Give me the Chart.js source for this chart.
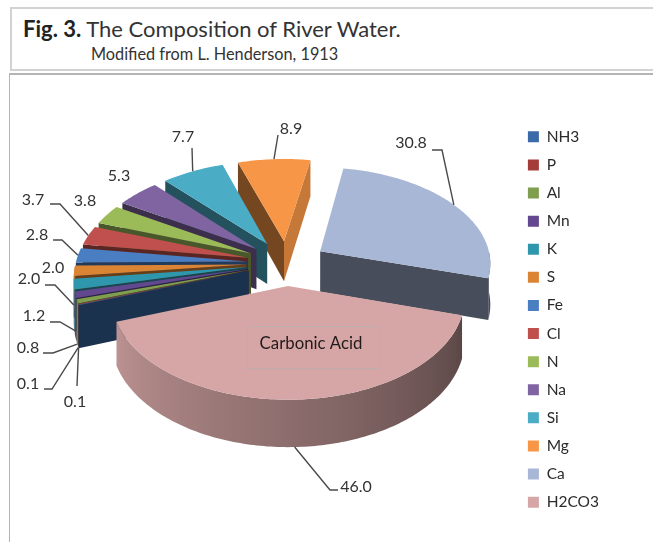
<!DOCTYPE html>
<html>
<head>
<meta charset="utf-8">
<title>The Composition of River Water</title>
<script src="https://cdn.jsdelivr.net/npm/chart.js@4"></script>
<style>
  html, body { margin: 0; padding: 0; background: #fff; }
  body { width: 653px; height: 542px; position: relative; overflow: hidden; font-family: Lato, sans-serif; color: #333; }
  #head { position: absolute; left: 10px; top: 7px; right: 0; height: 64px; border: solid #d2d2d2; border-width: 2px 0 2px 2px; box-sizing: border-box; }
  #frame { position: absolute; left: 9px; top: 73px; right: 0; bottom: 0; border: solid #b4b4b4; border-width: 2px 0 0 1.5px; box-sizing: border-box; }
  #t1 { position: absolute; left: 23px; top: 16px; font-size: 22px; line-height: 26px; white-space: nowrap; }
  #t1 b { color: #222; }
  #t2 { position: absolute; left: 91px; top: 45px; font-size: 16.3px; line-height: 18px; white-space: nowrap; }
  canvas { position: absolute; left: 0; top: 0; }
</style>
</head>
<body>
<div id="head"></div>
<div id="frame"></div>
<div id="t1"><b>Fig. 3.</b> The Composition of River Water.</div>
<div id="t2">Modified from L. Henderson, 1913</div>
<canvas id="pie" width="653" height="542"></canvas>
<script>
// Dissolved constituents of river water, percent of total solutes.
const categories = ['NH3', 'P', 'Al', 'Mn', 'K', 'S', 'Fe', 'Cl', 'N', 'Na', 'Si', 'Mg', 'Ca', 'H2CO3'];
const values = [0.1, 0.1, 0.8, 1.2, 2.0, 2.0, 2.8, 3.7, 3.8, 5.3, 7.7, 8.9, 30.8, 46.0];
const sliceColors = ['#3A6AA8', '#A33C3A', '#7F9F4F', '#63478F', '#2E97AE', '#DB8434', '#4A7EC2',
                     '#C0504D', '#9BBB59', '#8064A2', '#4BACC6', '#F79646', '#A9B7D7', '#D6A6A6'];

// Pseudo-3D view of the flat pie: vertical squash, perspective strength, slab thickness.
const tilt = 0.56;
const perspective = 0.11;
const thickness = 41;

// Text position for each value label, elbow of its leader line (if any) and how far
// down the slab the leader lands (0 = top face, 1 = bottom edge).
const labelSpots = [
  { x: 75, y: 402, elbow: [77, 386], start: [77, 386], drop: 1 },
  { x: 28, y: 384, elbow: [52, 389], start: [44, 389], drop: 1 },
  { x: 28, y: 348, elbow: [53, 353], start: [43, 353], drop: 1 },
  { x: 34, y: 316, elbow: [60, 322], start: [50, 322], drop: 0.85 },
  { x: 29, y: 279, elbow: [55, 285], start: [45, 285], drop: 0.5 },
  { x: 53, y: 268 },
  { x: 37, y: 235, elbow: [62, 240], start: [53, 240], drop: 0 },
  { x: 33, y: 200, elbow: [60, 204], start: [50, 204], drop: 0 },
  { x: 85, y: 201 },
  { x: 119, y: 176 },
  { x: 183, y: 137, elbow: [192, 148], start: [192, 148], drop: 0 },
  { x: 291, y: 129, elbow: [278, 135], start: [278, 135], drop: 0 },
  { x: 411, y: 143, elbow: [442, 150], start: [432, 150], drop: 0 },
  { x: 356, y: 487, elbow: [330, 490], start: [338, 490], drop: 1 }
];

function shade(hex, f) {
  const n = parseInt(hex.slice(1), 16);
  const c = [(n >> 16) & 255, (n >> 8) & 255, n & 255].map(v => Math.round(v * f));
  return `rgb(${c[0]},${c[1]},${c[2]})`;
}

// Maps a polar position on an exploded slice to the canvas.
function project(el, angle, r, h) {
  const mid = (el.startAngle + el.endAngle) / 2;
  const off = el.options.offset;
  const X = off * Math.cos(mid) + r * Math.cos(angle);
  const Z = -(off * Math.sin(mid) + r * Math.sin(angle));
  const k = 1 / (1 + perspective * Z / el.outerRadius);
  return { x: el.x + X * k, y: el.y + (-tilt * Z + h * thickness) * k };
}

function fillPoly(ctx, pts, color) {
  ctx.beginPath();
  pts.forEach((p, i) => i ? ctx.lineTo(p.x, p.y) : ctx.moveTo(p.x, p.y));
  ctx.closePath();
  ctx.fillStyle = color;
  ctx.fill();
}

function bearingOf(angle) {
  const deg = (angle * 180 / Math.PI + 90) % 360;
  return deg < 0 ? deg + 360 : deg;
}

function rimShade(bearing) {
  return Math.max(0.42, Math.min(0.88, 0.42 + (bearing - 106) / 144 * 0.46));
}

function drawSlice(ctx, el, color) {
  const R = el.outerRadius;
  const sweep = el.endAngle - el.startAngle;
  const apexTop = project(el, el.startAngle, 0, 0);
  const apexBot = project(el, el.startAngle, 0, 1);

  // Radial walls: visible when the edge runs left (start) or right (end) from the apex.
  const sTop = project(el, el.startAngle, R, 0);
  if (sTop.x < apexTop.x) {
    fillPoly(ctx, [apexTop, sTop, project(el, el.startAngle, R, 1), apexBot], shade(color, 0.47));
  }
  const eTop = project(el, el.endAngle, R, 0);
  if (eTop.x > apexTop.x) {
    const b = bearingOf(el.endAngle);
    const f = Math.max(0.42, Math.min(0.8, 0.8 - (b - 10) / 96 * 0.38));
    fillPoly(ctx, [apexTop, eTop, project(el, el.endAngle, R, 1), apexBot], shade(color, f));
  }

  // Outer rim on the viewer's side, one outline filled with a left-lit gradient.
  const steps = Math.max(2, Math.ceil(sweep / (Math.PI / 180)));
  const front = [];
  for (let i = 0; i <= steps; i++) {
    const a = el.startAngle + sweep * i / steps;
    if (Math.sin(a) > 0) front.push(a);
  }
  if (front.length > 1) {
    const upper = front.map(a => project(el, a, R, 0));
    const lower = front.map(a => project(el, a, R, 1));
    const xs = upper.map(p => p.x);
    const x0 = Math.min(...xs);
    const x1 = Math.max(...xs);
    const grad = ctx.createLinearGradient(x0, 0, x1, 0);
    front.forEach((a, i) => {
      grad.addColorStop(Math.max(0, Math.min(1, (xs[i] - x0) / (x1 - x0))), shade(color, rimShade(bearingOf(a))));
    });
    fillPoly(ctx, upper.concat(lower.reverse()), grad);
  }

  // Top face.
  const top = [apexTop];
  for (let i = 0; i <= steps; i++) {
    top.push(project(el, el.startAngle + sweep * i / steps, R, 0));
  }
  fillPoly(ctx, top, color);
}

const slabPie = {
  id: 'slabPie',
  afterLayout(chart) {
    // The legend block sits lower than the pie's centre line.
    chart.legend.top += 56.5;
    chart.legend.bottom += 56.5;
  },
  beforeDatasetDraw(chart, args) {
    const ctx = chart.ctx;
    const arcs = chart.getDatasetMeta(args.index).data;
    const order = arcs.map((el, i) => i).sort((a, b) => {
      const za = -Math.sin((arcs[a].startAngle + arcs[a].endAngle) / 2);
      const zb = -Math.sin((arcs[b].startAngle + arcs[b].endAngle) / 2);
      return zb - za;
    });
    ctx.save();
    order.forEach(i => drawSlice(ctx, arcs[i], sliceColors[i]));
    ctx.restore();
    return false;
  },
  afterDatasetsDraw(chart) {
    const ctx = chart.ctx;
    const arcs = chart.getDatasetMeta(0).data;
    ctx.save();
    ctx.font = '16px Lato, sans-serif';
    ctx.textBaseline = 'middle';
    arcs.forEach((el, i) => {
      const spot = labelSpots[i];
      if (spot.elbow) {
        const end = project(el, (el.startAngle + el.endAngle) / 2, el.outerRadius, spot.drop);
        ctx.beginPath();
        ctx.moveTo(spot.start[0], spot.start[1]);
        ctx.lineTo(spot.elbow[0], spot.elbow[1]);
        ctx.lineTo(end.x, end.y);
        ctx.strokeStyle = '#4a4a4a';
        ctx.lineWidth = 1.4;
        ctx.stroke();
      }
      ctx.fillStyle = '#333';
      ctx.textAlign = 'center';
      ctx.fillText(values[i].toFixed(1), spot.x, spot.y);
    });

    // Callout naming the largest slice.
    ctx.strokeStyle = '#bdaeae';
    ctx.lineWidth = 1;
    ctx.strokeRect(247.5, 326.5, 132, 42);
    ctx.fillStyle = '#221a1a';
    ctx.font = '16.8px Lato, sans-serif';
    ctx.fillText('Carbonic Acid', 311, 344);
    ctx.restore();
  }
};

new Chart(document.getElementById('pie'), {
  type: 'pie',
  data: {
    labels: categories,
    datasets: [{ data: values, backgroundColor: sliceColors, borderWidth: 0, offset: 40, hoverOffset: 0 }]
  },
  options: {
    responsive: false,
    animation: false,
    rotation: 250,
    radius: 171,
    layout: { padding: { left: 58, right: 44, top: 0, bottom: 16 } },
    plugins: {
      tooltip: { enabled: false },
      legend: {
        position: 'right',
        labels: {
          boxWidth: 11,
          boxHeight: 11,
          padding: 12.6,
          color: '#2b2b2b',
          font: { family: 'Lato, sans-serif', size: 15.5 }
        }
      }
    }
  },
  plugins: [slabPie]
});
</script>
</body>
</html>
